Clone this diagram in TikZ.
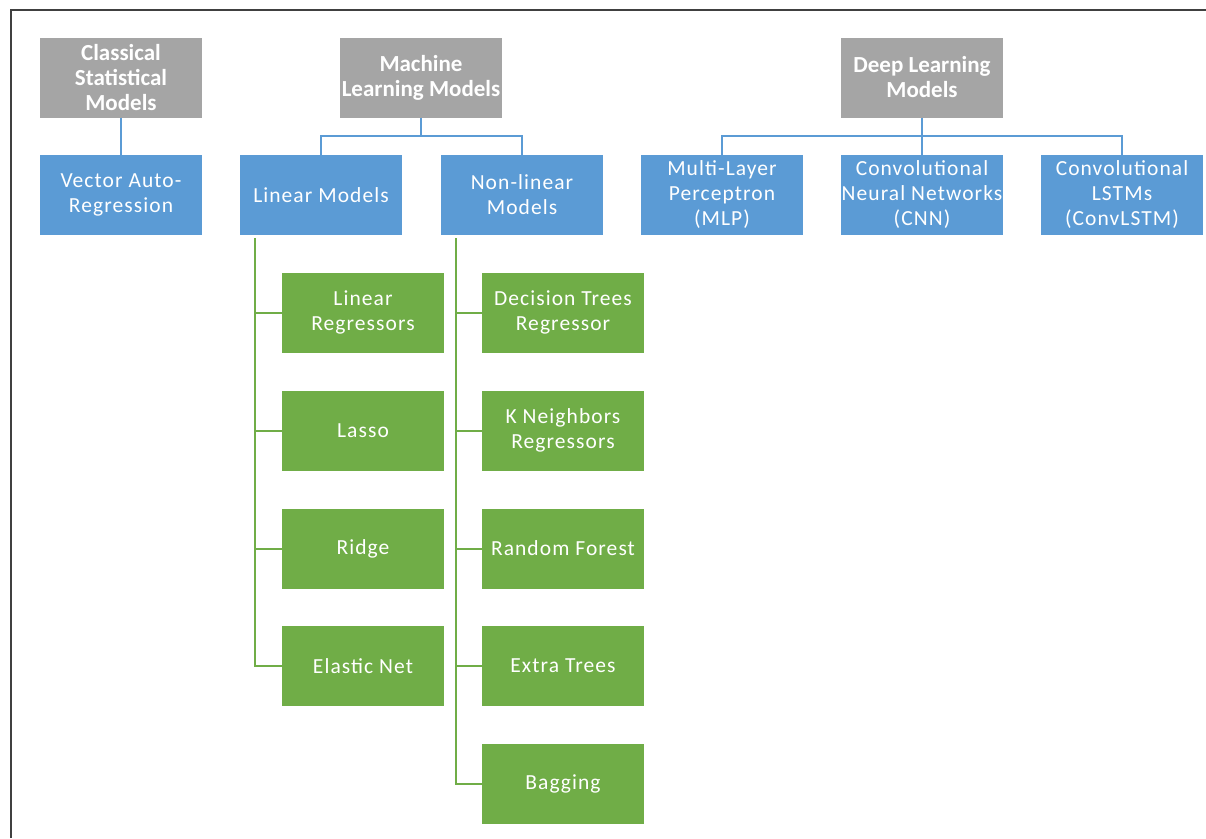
\documentclass[tikz,border=0pt]{standalone}
\usepackage{fontspec}
\setmainfont{Carlito}
\newfontfamily\spacedfont[LetterSpace=5]{Carlito}
\usetikzlibrary{positioning}

\definecolor{hdgray}{HTML}{A5A5A5}
\definecolor{mdblue}{HTML}{5B9BD5}
\definecolor{lfgreen}{HTML}{70AD47}

\begin{document}
\begin{tikzpicture}[x=1pt, y=-1pt,
  head/.style = {fill=hdgray, text=white, minimum width=162pt, minimum height=80pt, inner sep=0pt, align=center, font=\fontsize{23}{25}\selectfont\bfseries},
  family/.style = {fill=mdblue, text=white, minimum width=162pt, minimum height=80pt, inner sep=0pt, align=center, font=\fontsize{21.5}{25}\selectfont\spacedfont},
  leaf/.style = {fill=lfgreen, text=white, minimum width=162pt, minimum height=80pt, inner sep=0pt, align=center, font=\fontsize{21.5}{25}\selectfont\spacedfont},
  bline/.style = {draw=mdblue, line width=2pt},
  gline/.style = {draw=lfgreen, line width=2pt}]

\useasboundingbox (0, 0) rectangle (1206, 838);
\draw[black!75, line width=2pt] (11, 838) -- (11, 10) -- (1206, 10);

\node[head] (CS) at (121, 77.5) {Classical\\Statistical\\Models};
\node[head] (ML) at (421, 77.5) {Machine\\Learning Models};
\node[head] (DL) at (922, 77.5) {Deep Learning\\Models};

\node[family] (VAR) at (121, 195) {Vector Auto-\\Regression};
\node[family] (LM) at (321, 195) {Linear Models};
\node[family] (NL) at (522, 195) {Non-linear\\Models};
\node[family] (MLP) at (722, 195) {Multi-Layer\\Perceptron\\(MLP)};
\node[family] (CNN) at (922, 195) {Convolutional\\Neural Networks\\(CNN)};
\node[family] (CL) at (1122, 195) {Convolutional\\LSTMs\\(ConvLSTM)};

\node[leaf] (L1) at (363, 312.5) {Linear\\Regressors};
\node[leaf] (L2) at (363, 430.5) {Lasso};
\node[leaf] (L3) at (363, 548.5) {Ridge};
\node[leaf] (L4) at (363, 666) {Elastic Net};

\node[leaf] (N1) at (563, 312.5) {Decision Trees\\Regressor};
\node[leaf] (N2) at (563, 430.5) {K Neighbors\\Regressors};
\node[leaf] (N3) at (563, 548.5) {Random Forest};
\node[leaf] (N4) at (563, 666) {Extra Trees};
\node[leaf] (N5) at (563, 783.5) {Bagging};

\draw[bline] (CS) -- (VAR);

\coordinate (MLj) at (421, 136);
\draw[bline] (ML) -- (MLj);
\draw[bline] (MLj) -| (LM);
\draw[bline] (MLj) -| (NL);

\coordinate (DLj) at (922, 136);
\draw[bline] (DL) -- (CNN);
\draw[bline] (DLj) -| (MLP);
\draw[bline] (DLj) -| (CL);

\coordinate (LMt) at (255, 238);
\draw[gline] (LMt) |- (L4);
\draw[gline] (LMt |- L1) -- (L1);
\draw[gline] (LMt |- L2) -- (L2);
\draw[gline] (LMt |- L3) -- (L3);

\coordinate (NLt) at (456, 238);
\draw[gline] (NLt) |- (N5);
\draw[gline] (NLt |- N1) -- (N1);
\draw[gline] (NLt |- N2) -- (N2);
\draw[gline] (NLt |- N3) -- (N3);
\draw[gline] (NLt |- N4) -- (N4);

\end{tikzpicture}
\end{document}
